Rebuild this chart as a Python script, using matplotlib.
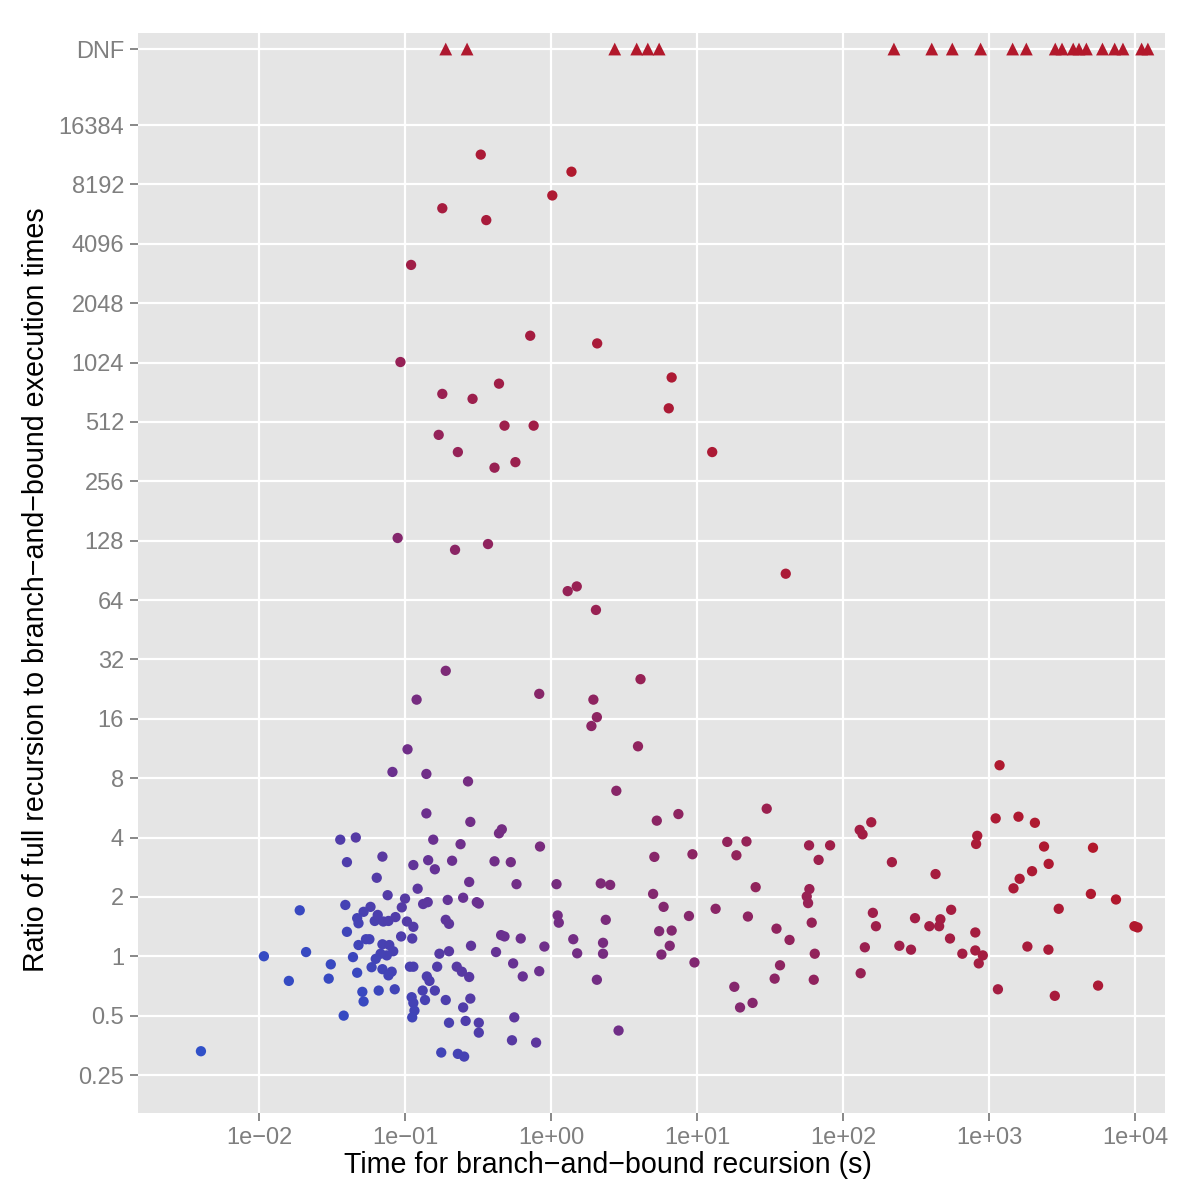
import numpy as np
import matplotlib
matplotlib.use('Agg')
import matplotlib.pyplot as plt
from matplotlib.colors import LinearSegmentedColormap, Normalize
from matplotlib.ticker import NullLocator

# time for branch-and-bound (s) and ratio full / branch-and-bound
bb_time = [0.33, 1.38, 1.02, 0.18, 0.36, 0.11, 0.72, 2.07, 0.093, 6.7,
           0.44, 0.18, 0.29, 6.4, 0.48, 0.76, 0.17, 0.23, 12.7, 0.57,
           0.41, 0.089, 0.22, 0.37, 40.5, 1.3, 1.5, 2.03, 0.19, 0.12,
           0.83, 1.95, 4.1, 2.06, 1.89, 0.104, 3.94, 0.082, 0.14, 0.27,
           2.8, 0.036, 0.046, 0.040, 0.070, 0.114, 0.064, 0.122, 0.076, 0.10,
           0.095, 0.039, 0.019, 0.058, 0.052, 0.047, 0.048, 0.062, 0.065, 0.071,
           0.077, 0.086, 0.103, 0.114, 0.040, 0.094, 0.112, 0.054, 0.057, 0.048,
           0.070, 0.078, 0.083, 0.075, 0.068, 0.063, 0.044, 0.021, 0.0108, 0.031,
           0.059, 0.108, 0.114, 0.070, 0.081, 0.077, 0.047, 0.030, 0.016, 0.051,
           0.066, 0.085, 0.052, 0.111, 0.114, 0.116, 0.112, 0.038, 0.0040, 0.14,
           0.28, 0.44, 0.46, 0.156, 0.24, 0.84, 0.144, 0.16, 0.21, 0.41,
           0.53, 0.275, 0.58, 1.09, 2.19, 2.54, 0.133, 0.143, 0.196, 0.25,
           0.31, 0.32, 1.11, 1.13, 2.37, 0.19, 0.20, 0.455, 0.48, 0.62,
           0.90, 1.42, 2.27, 0.283, 0.20, 0.172, 0.42, 1.51, 2.27, 0.166,
           0.226, 0.245, 0.275, 0.141, 0.147, 0.55, 0.64, 0.83, 2.06, 0.132,
           0.16, 0.137, 0.19, 0.28, 0.25, 0.56, 0.20, 0.26, 0.32, 0.32,
           2.9, 0.54, 0.79, 0.177, 0.23, 0.254, 5.3, 7.45, 30, 130,
           136, 156, 5.1, 9.3, 16.1, 21.8, 18.6, 58.5, 81.5, 68,
           216, 5.0, 5.9, 8.8, 25.2, 58.8, 56.4, 57.6, 13.4, 22.3,
           5.5, 6.7, 6.5, 5.7, 9.6, 35, 43, 61, 64, 37,
           34, 63, 18, 19.7, 24, 160, 168, 141, 243, 292,
           132, 1180, 1110, 1590, 2060, 830, 815, 2380, 5150, 2560,
           430, 1970, 1620, 1470, 4980, 7400, 3000, 550, 311, 464,
           390, 455, 9900, 10400, 805, 540, 656, 805, 906, 850,
           1830, 2550, 1150, 2820, 5580]
ratio = [11600, 9500, 7200, 6200, 5400, 3200, 1400, 1280, 1030, 860,
         800, 710, 670, 600, 490, 490, 440, 360, 360, 320,
         300, 132, 115, 123, 87, 71, 75, 57, 28, 20,
         21.4, 20, 25.4, 16.3, 14.7, 11.2, 11.6, 8.6, 8.4, 7.7,
         6.9, 3.9, 4.0, 3.0, 3.2, 2.9, 2.5, 2.2, 2.04, 1.96,
         1.77, 1.82, 1.71, 1.78, 1.68, 1.56, 1.47, 1.51, 1.62, 1.50,
         1.51, 1.58, 1.50, 1.41, 1.33, 1.26, 1.23, 1.22, 1.22, 1.14,
         1.15, 1.14, 1.06, 1.01, 1.03, 0.97, 0.99, 1.05, 1.0, 0.91,
         0.88, 0.885, 0.885, 0.86, 0.835, 0.80, 0.825, 0.77, 0.75, 0.66,
         0.67, 0.68, 0.59, 0.62, 0.58, 0.53, 0.49, 0.50, 0.33, 5.3,
         4.8, 4.2, 4.4, 3.9, 3.7, 3.6, 3.07, 2.76, 3.05, 3.03,
         3.0, 2.38, 2.32, 2.32, 2.34, 2.3, 1.84, 1.88, 1.93, 1.98,
         1.88, 1.85, 1.61, 1.48, 1.53, 1.53, 1.46, 1.28, 1.26, 1.23,
         1.12, 1.22, 1.17, 1.13, 1.06, 1.03, 1.05, 1.035, 1.03, 0.885,
         0.885, 0.835, 0.785, 0.79, 0.75, 0.92, 0.79, 0.84, 0.76, 0.67,
         0.67, 0.60, 0.60, 0.61, 0.55, 0.49, 0.46, 0.47, 0.46, 0.41,
         0.42, 0.375, 0.365, 0.325, 0.32, 0.31, 4.87, 5.26, 5.6, 4.37,
         4.15, 4.78, 3.19, 3.29, 3.8, 3.82, 3.25, 3.65, 3.65, 3.08,
         3.0, 2.07, 1.78, 1.60, 2.24, 2.19, 2.01, 1.86, 1.74, 1.59,
         1.34, 1.35, 1.13, 1.02, 0.93, 1.38, 1.21, 1.48, 1.03, 0.90,
         0.77, 0.76, 0.70, 0.55, 0.58, 1.66, 1.42, 1.11, 1.13, 1.08,
         0.82, 9.3, 5.0, 5.1, 4.75, 4.08, 3.71, 3.6, 3.55, 2.94,
         2.61, 2.7, 2.47, 2.21, 2.07, 1.94, 1.74, 1.72, 1.56, 1.54,
         1.42, 1.42, 1.42, 1.40, 1.32, 1.23, 1.03, 1.07, 1.01, 0.92,
         1.12, 1.08, 0.68, 0.63, 0.71]

# full recursion did not finish
dnf_time = [0.19, 0.266, 2.73, 3.86, 4.6, 5.5, 223, 405, 560, 875,
            1450, 1800, 2840, 3160, 3770, 4130, 4640, 5980, 7250, 8260,
            11090, 12240]

y_ticks = [0.25, 0.5, 1, 2, 4, 8, 16, 32, 64, 128, 256, 512, 1024,
           2048, 4096, 8192, 16384]
y_labels = ['0.25', '0.5', '1', '2', '4', '8', '16', '32', '64', '128',
            '256', '512', '1024', '2048', '4096', '8192', '16384']
x_ticks = [1e-2, 1e-1, 1e0, 1e1, 1e2, 1e3, 1e4]
x_labels = ['1e\u221202', '1e\u221201', '1e+00', '1e+01', '1e+02',
            '1e+03', '1e+04']
DNF = 2 ** 15.28

plt.rcParams['font.family'] = ['Liberation Sans', 'DejaVu Sans']

cmap = LinearSegmentedColormap.from_list(
    'bb', [(0, '#3050C8'), (0.2, '#3848C0'), (0.37, '#6A3090'),
           (0.75, '#A01E48'), (1, '#B2182B')])
norm = Normalize(-2.9, 4.3)

t = np.array(bb_time)
r = np.array(ratio)
dt = np.array(dnf_time)

fig = plt.figure(figsize=(12, 12), dpi=100)
ax = fig.add_axes([138/1200, 87/1200, 1027/1200, 1080/1200])
ax.set_facecolor('#E5E5E5')
ax.set_xscale('log')
ax.set_yscale('log', base=2)

ax.scatter(t, r, c=np.log10(t * r), cmap=cmap, norm=norm, s=55,
           linewidths=0, zorder=3)
ax.scatter(dt, np.full(len(dt), DNF), c=np.log10(dt * DNF), cmap=cmap,
           norm=norm, marker='^', s=85, linewidths=0, zorder=3)

ax.set_xlim(10 ** -2.829, 10 ** 4.205)
ax.set_ylim(2 ** -2.64, 2 ** 15.55)
ax.set_xticks(x_ticks)
ax.set_xticklabels(x_labels)
ax.set_yticks(y_ticks + [DNF])
ax.set_yticklabels(y_labels + ['DNF'])
ax.xaxis.set_minor_locator(NullLocator())
ax.yaxis.set_minor_locator(NullLocator())

ax.grid(True, color='white', linewidth=1.6)
ax.set_axisbelow(True)
for s in ax.spines.values():
    s.set_visible(False)
ax.tick_params(colors='#7F7F7F', labelsize=17, length=6, width=1.3,
               labelcolor='#7F7F7F', pad=4)

fig.text(608/1200, 1 - 1165/1200,
         'Time for branch\u2212and\u2212bound recursion (s)',
         fontsize=20.6, ha='center', va='center')
fig.text(36/1200, 1 - 590/1200,
         'Ratio of full recursion to branch\u2212and\u2212bound execution times',
         fontsize=20.6, ha='center', va='center', rotation=90)

fig.savefig('out.png', dpi=100)
